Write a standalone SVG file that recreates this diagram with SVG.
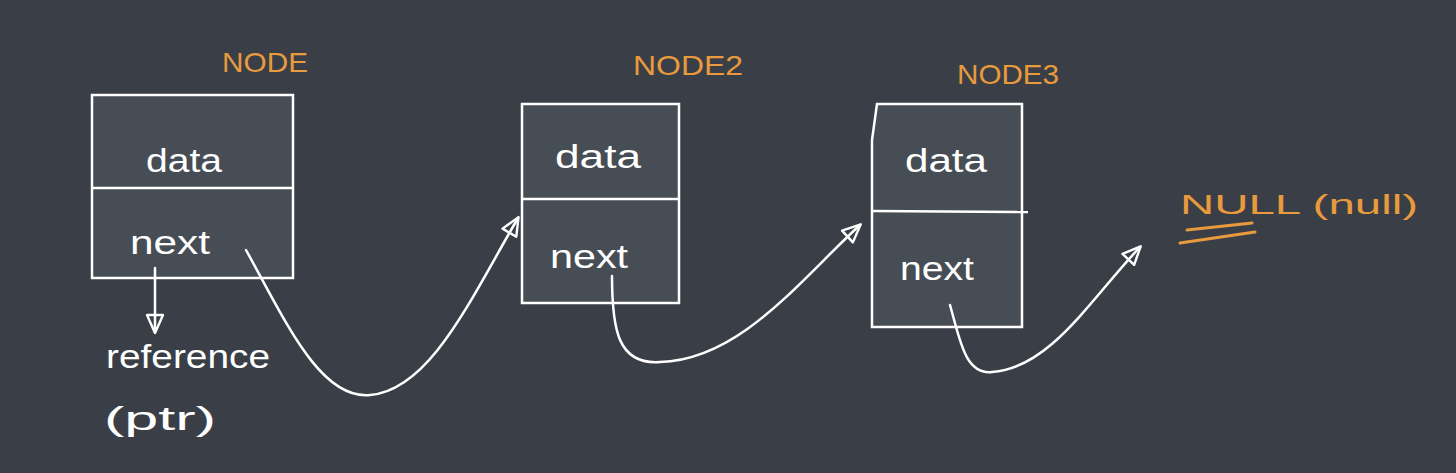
<svg xmlns="http://www.w3.org/2000/svg" width="1456" height="473" viewBox="0 0 1456 473">
<style>
.bg{fill:#3a3f47}
.box{fill:#474d55;stroke:#ffffff;stroke-width:2.5}
.div{stroke:#ffffff;stroke-width:2.5;fill:none}
.t{font-family:"Liberation Sans",Arial,sans-serif;fill:#ffffff;font-size:34px}
.o{font-family:"Liberation Sans",Arial,sans-serif;fill:#e89a3c;font-size:28px}
.c{stroke:#ffffff;stroke-width:2.5;fill:none;stroke-linecap:round}
.u{stroke:#e89a3c;stroke-width:3;fill:none;stroke-linecap:round}
</style>
<defs>
<marker id="ah" markerWidth="26" markerHeight="22" refX="20" refY="11" orient="auto" markerUnits="userSpaceOnUse" viewBox="0 0 26 22">
<path d="M3,3 L21,11 L3,19 Z" fill="none" stroke="#ffffff" stroke-width="2.4" stroke-linejoin="round"/>
</marker>
</defs>
<rect class="bg" x="0" y="0" width="1456" height="473"/>
<g id="node1">
<rect class="box" x="92" y="95" width="201" height="183"/>
<line class="div" x1="92" y1="188" x2="293" y2="188"/>
<text class="t" x="146" y="172" textLength="76" lengthAdjust="spacingAndGlyphs">data</text>
<text class="t" x="130" y="254" textLength="80" lengthAdjust="spacingAndGlyphs">next</text>
<text class="o" x="222" y="72" textLength="86" lengthAdjust="spacingAndGlyphs">NODE</text>
</g>
<g id="node2">
<rect class="box" x="522" y="104" width="157" height="199"/>
<line class="div" x1="522" y1="199" x2="679" y2="199"/>
<text class="t" x="555" y="168" textLength="86" lengthAdjust="spacingAndGlyphs">data</text>
<text class="t" x="550" y="268" textLength="78" lengthAdjust="spacingAndGlyphs">next</text>
<text class="o" x="633" y="75" textLength="110" lengthAdjust="spacingAndGlyphs">NODE2</text>
</g>
<g id="node3">
<path class="box" d="M877,104 L1022,104 L1022,327 L872,327 L872,140 Z"/>
<line class="div" x1="872" y1="211" x2="1028" y2="212"/>
<text class="t" x="905" y="172" textLength="82" lengthAdjust="spacingAndGlyphs">data</text>
<text class="t" x="900" y="280" textLength="74" lengthAdjust="spacingAndGlyphs">next</text>
<text class="o" x="957" y="84" textLength="102" lengthAdjust="spacingAndGlyphs">NODE3</text>
</g>
<g id="null">
<text class="o" x="1180" y="214" font-size="36" textLength="238" lengthAdjust="spacingAndGlyphs">NULL (null)</text>
<path class="u" d="M1187,230 L1252,223"/>
<path class="u" d="M1180,243 L1255,232"/>
</g>
<g id="ref">
<text class="t" x="106" y="368" font-size="36" textLength="164" lengthAdjust="spacingAndGlyphs">reference</text>
<text class="t" x="104" y="430" font-size="44" textLength="112" lengthAdjust="spacingAndGlyphs">(ptr)</text>
</g>
<g id="connectors">
<path class="c" d="M155,268 L155,332" marker-end="url(#ah)"/>
<path class="c" d="M246,250 C 285,320 320,400 370,395 C 430,390 470,300 518,218" marker-end="url(#ah)"/>
<path class="c" d="M612,276 C 612,330 618,365 660,362 C 740,360 800,280 860,225" marker-end="url(#ah)"/>
<path class="c" d="M950,305 C 960,340 965,375 992,372 C 1050,368 1090,300 1140,247" marker-end="url(#ah)"/>
</g>
</svg>
